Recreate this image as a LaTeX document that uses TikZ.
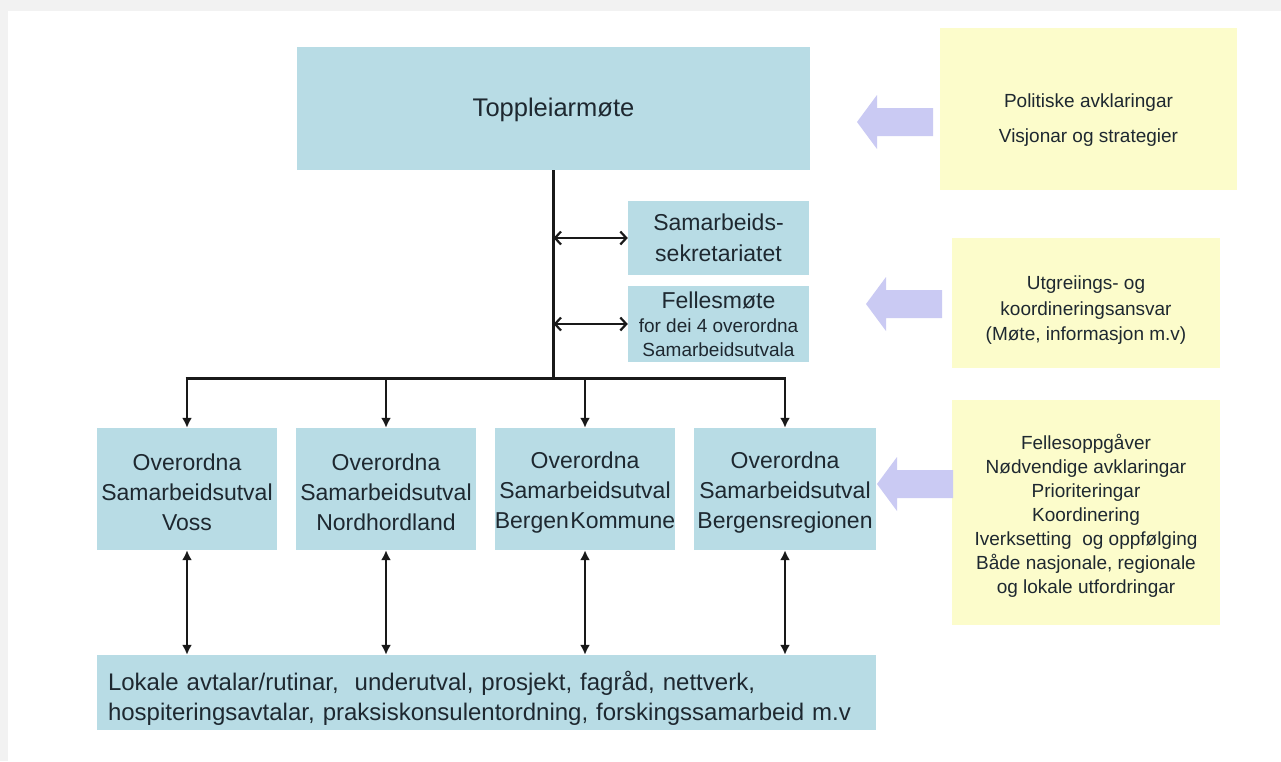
\documentclass[tikz,border=0pt]{standalone}
\usepackage{fontspec}
\setmainfont{Liberation Sans}
\usepackage{tikz}
\usetikzlibrary{arrows.meta}

\definecolor{boxblue}{HTML}{B8DCE5}
\definecolor{noteyellow}{HTML}{FCFCCB}
\definecolor{lavender}{HTML}{CACAF3}
\definecolor{ink}{HTML}{1E2830}

\newcommand{\lift}[1]{\rule{0pt}{#1pt}}

\tikzset{
  box/.style={fill=boxblue, text=ink, inner sep=0pt, align=center},
  note/.style={fill=noteyellow, text=ink, inner sep=0pt, align=center,
    font=\fontsize{19}{24}\selectfont},
  link/.style={line width=2.7pt, draw=black!90},
  side/.style={link, {Straight Barb[length=6pt,width=13pt,line width=2.2pt]}-{Straight Barb[length=6pt,width=13pt,line width=2.2pt]}},
}

\begin{document}
\begin{tikzpicture}[x=1pt,y=-1pt,>={Latex[length=10pt,width=10pt]}]

    \useasboundingbox (0,0) rectangle (1281,761);
    \fill[black!5] (0,0) rectangle (1281,761);
    \fill[white] (8,11) rectangle (1281,761);

    % main column
    \node[box, minimum width=513, minimum height=123, font=\fontsize{25.5}{30}\selectfont]
        (top) at (553.5,108.5) {\lift{22}Toppleiarm\o te};
    \node[box, minimum width=181, minimum height=74, font=\fontsize{23}{31}\selectfont]
        (sek) at (718.5,238) {Samarbeids-\\sekretariatet};
    \node[box, minimum width=181, minimum height=76, font=\fontsize{19}{24}\selectfont]
        (fel) at (718.5,324) {{\fontsize{23}{24}\selectfont Fellesm\o te}\\for dei 4 overordna\\Samarbeidsutvala};

    \node[box, minimum width=180, minimum height=122, font=\fontsize{23}{30}\selectfont]
        (u1) at (187,489) {\lift{23}Overordna\\Samarbeidsutval\\Voss};
    \node[box, minimum width=180, minimum height=122, font=\fontsize{23}{30}\selectfont]
        (u2) at (386,489) {\lift{23}Overordna\\Samarbeidsutval\\Nordhordland};
    \node[box, minimum width=180, minimum height=122, font=\fontsize{23}{30}\selectfont]
        (u3) at (585,489) {\lift{23}Overordna\\Samarbeidsutval\\Bergen\hspace{1.5pt}Kommune};
    \node[box, minimum width=182, minimum height=122, font=\fontsize{23}{30}\selectfont]
        (u4) at (785,489) {\lift{23}Overordna\\Samarbeidsutval\\Bergensregionen};

    \node[box, minimum width=779, minimum height=75, text width=757, align=left,
        inner xsep=11, font=\fontsize{24}{30}\selectfont]
        (lok) at (486.5,692.5) {\lift{30}Lokale avtalar/rutinar,\ \ underutval, prosjekt, fagr\aa d, nettverk,\\
        hospiteringsavtalar, praksiskonsulentordning, forskingssamarbeid m.v};

    % notes on the right
    \node[note, minimum width=297, minimum height=162, font=\fontsize{19}{35}\selectfont]
        (n1) at (1088.5,109) {\lift{36}Politiske avklaringar\\Visjonar og strategier};
    \node[note, minimum width=268, minimum height=130, font=\fontsize{19}{25.5}\selectfont]
        (n2) at (1086,303) {\lift{28}Utgreiings- og\\koordineringsansvar\\(M\o te, informasjon m.v)};
    \node[note, minimum width=268, minimum height=225]
        (n3) at (1086,512.5) {\lift{22}Fellesoppg\aa ver\\N\o dvendige avklaringar\\Prioriteringar\\Koordinering\\
        Iverksetting\ \ og oppf\o lging\\B\aa de nasjonale, regionale\\og lokale utfordringar};

    % connectors
    \coordinate (j) at (553.5,378.5);
    \draw[link] (top.south) -- (j);
    \draw[link] ([xshift=-1.35]u1.north |- j) -- ([xshift=1.35]u4.north |- j);
    \draw[side] (top.south |- sek.west) -- (sek.west);
    \draw[side] (top.south |- fel.west) -- (fel.west);
    \foreach \i in {1,2,3,4} {
        \draw[link,->] (u\i.north |- j) -- (u\i.north);
        \draw[link,<->] (u\i.south) -- (u\i.south |- lok.north);
    }

    % wide arrows from the notes
    \foreach \tx/\ty in {857/122, 866/304, 877/484}
        \fill[lavender] (\tx,\ty) -- ++(20,-27) -- ++(0,13) -- ++(56,0) -- ++(0,28)
            -- ++(-56,0) -- ++(0,13) -- cycle;

\end{tikzpicture}
\end{document}
